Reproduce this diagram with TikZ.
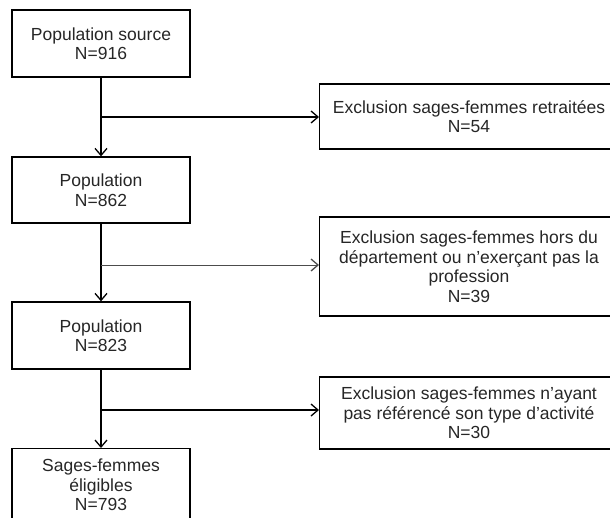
\documentclass[tikz,border=0pt]{standalone}
\usepackage{fontspec}
\setmainfont{Liberation Sans}
\usetikzlibrary{arrows.meta}
\begin{document}
\begin{tikzpicture}[x=1pt,y=-1pt,
  txt/.style={align=center,font=\fontsize{17.5}{19.5}\selectfont,inner sep=0pt,text=black!85},
  box/.style={draw,line width=1.3pt,txt},
  conn/.style={line width=1.3pt},
  arr/.style={conn,-{Straight Barb[length=7pt,width=12pt,line width=1.3pt]}}]
\useasboundingbox (0,0) rectangle (610,517);
\clip (0,0) rectangle (610,517);
% left boxes
\node[box,minimum width=178pt,minimum height=67pt] (b1) at (101,43.5) {Population source\\N=916};
\node[box,minimum width=178pt,minimum height=66pt] (b2) at (101,190) {Population\\N=862};
\node[box,minimum width=178pt,minimum height=67pt] (b3) at (101,335.5) {Population\\N=823};
\node[box,minimum width=178pt,minimum height=90pt,anchor=north] (b4) at (101,448) {};
\node[txt,anchor=north] (t4) at (101,459) {Sages-femmes\\éligibles\\N=793};
% right boxes
\node[box,minimum width=300pt,minimum height=65pt,anchor=west] (r1) at (319,116.5) {};
\node[txt] (r1t) at (469,116.5) {Exclusion sages-femmes retraitées\\N=54};
\node[box,minimum width=300pt,minimum height=99pt,anchor=west] (r2) at (319,266.5) {};
\node[txt] (r2t) at (469,266.5) {Exclusion sages-femmes hors du\\département ou n’exerçant pas la\\profession\\N=39};
\node[box,minimum width=300pt,minimum height=72pt,anchor=west] (r3) at (319,413) {};
\node[txt] (r3t) at (469,413) {Exclusion sages-femmes n’ayant\\pas référencé son type d’activité\\N=30};
% junction coordinates
\coordinate (j1) at (101,117);
\coordinate (j2) at (101,265);
\coordinate (j3) at (101,410);
% connectors
\draw[arr] (b1.south) -- (b2.north);
\draw[arr] (j1) -- (j1 -| r1.west);
\draw[arr] (b2.south) -- (b3.north);
\draw[arr,line width=0.8pt,draw=black!70] (j2) -- (j2 -| r2.west);
\draw[arr] (b3.south) -- (b4.north);
\draw[arr] (j3) -- (j3 -| r3.west);
\end{tikzpicture}
\end{document}
